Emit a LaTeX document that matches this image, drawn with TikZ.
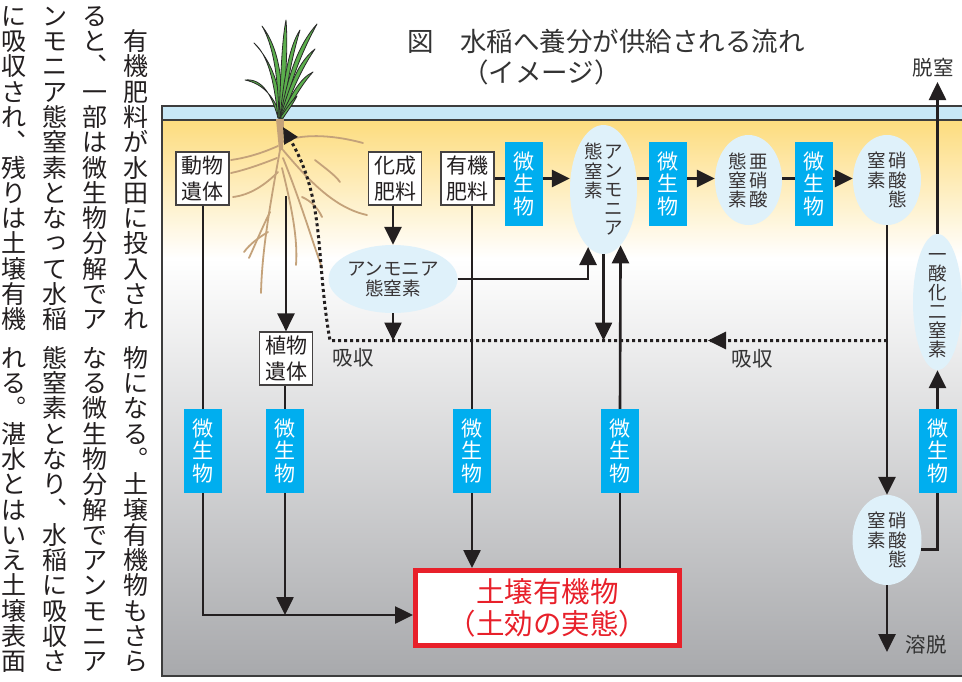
\documentclass[tikz,border=0pt]{standalone}
\usepackage{fontspec}
\setmainfont{Noto Sans CJK JP}
\usetikzlibrary{arrows.meta,shapes.geometric,decorations.markings}

\definecolor{cInk}{HTML}{231F20}
\definecolor{cFrame}{HTML}{3D3D3D}
\definecolor{cTitle}{HTML}{333333}
\definecolor{cWater}{HTML}{C8E8F6}
\definecolor{cSoilTop}{HTML}{FDDC7E}
\definecolor{cSoilBot}{HTML}{A8A9AC}
\definecolor{cOval}{HTML}{DFF1FA}
\definecolor{cMicrobe}{HTML}{00AEEF}
\definecolor{cRed}{HTML}{E8202A}
\definecolor{cLeaf}{HTML}{5BAE4C}
\definecolor{cLeafEdge}{HTML}{2A2A2A}
\definecolor{cRoot}{HTML}{C4A27A}

% vertical (top-to-bottom) column of characters, #1 = character pitch
\makeatletter
\newcommand\vcol[2]{\vtop{\baselineskip=#1\relax\lineskiplimit=-\maxdimen\lineskip=0pt\relax\vc@l#2\@nil}}
\def\vc@l#1#2\@nil{\hbox to 1em{\hss\vrule height .88em depth .12em width 0pt\relax#1\hss}\ifx\relax#2\relax\else\vc@l#2\@nil\fi}
\makeatother
\newcommand\smallkana[1]{\raisebox{.12em}{\kern.12em#1}}

\tikzset{
  conn/.style={draw=cInk, line width=2.6pt},
  arr/.style={conn, -{Triangle[length=18pt,width=17pt]}},
  dotln/.style={draw=cInk, line width=3pt, dash pattern=on 3pt off 3pt},
  srcbox/.style={draw=cInk!85, line width=1.2pt, fill=white, minimum width=53pt,
    minimum height=53pt, inner sep=0pt, align=center, text=cInk,
    font=\fontsize{21}{25.5}\selectfont},
  mbox/.style={fill=cMicrobe, minimum width=38pt, minimum height=84pt,
    inner sep=0pt, text=white, font=\fontsize{21}{22.5}\selectfont},
  ovalnode/.style={ellipse, fill=cOval, inner sep=0pt},
  ovaltext/.style={inner sep=0pt, text=cInk!90, font=\fontsize{18.5}{20}\selectfont},
  lbl/.style={inner sep=0pt, text=cTitle, font=\fontsize{20.5}{22}\selectfont},
  colstyle/.style={anchor=north, inner sep=0pt, text=cInk, font=\fontsize{25}{25.3}\selectfont},
  leaf/.style={fill=cLeaf, draw=cLeafEdge, line width=0.8pt, line join=round},
  rootln/.style={draw=cRoot, line width=1.8pt, line cap=round},
}

\begin{document}
\begin{tikzpicture}[x=1pt,y=-1pt]
\useasboundingbox (0,0) rectangle (962,681);

% ---------- running text, vertical columns ----------
\node[colstyle] (p1) at (135.5,28.3) {\vcol{25.3pt}{有機肥料が水田に投入され}};
\node[colstyle] (p2) at (95,3) {\vcol{25.3pt}{ると︑一部は微生物分解でア}};
\node[colstyle] (p3) at (54.5,3) {\vcol{25.3pt}{ンモニア態窒素とな{\smallkana{っ}}て水稲}};
\node[colstyle] (p4) at (14,3) {\vcol{25.3pt}{に吸収され︑残りは土壌有機}};
\node[colstyle] (p5) at (135.5,345) {\vcol{25.3pt}{物になる︒土壌有機物もさら}};
\node[colstyle] (p6) at (95,345) {\vcol{25.3pt}{なる微生物分解でアンモニア}};
\node[colstyle] (p7) at (54.5,345) {\vcol{25.3pt}{態窒素となり︑水稲に吸収さ}};
\node[colstyle] (p8) at (14,345) {\vcol{25.3pt}{れる︒湛水とはいえ土壌表面}};

% ---------- title ----------
\node[anchor=west, inner sep=0pt, text=cTitle, font=\fontsize{26.5}{30}\selectfont] (title1) at (407,41) {図　水稲へ養分が供給される流れ};
\node[anchor=west, inner sep=0pt, text=cTitle, font=\fontsize{26.5}{30}\selectfont] (title2) at (462,72) {（イメージ）};

% ---------- soil and flood water ----------
\shade[top color=cSoilTop, bottom color=white] (162,120) rectangle (962,258);
\shade[top color=white, bottom color=cSoilBot] (162,258) rectangle (962,676);
\fill[cWater] (162,106) rectangle (962,120);
\draw[cFrame, line width=2pt] (162,120) -- (962,120);
\draw[cFrame, line width=2pt] (962,106) -- (162,106) -- (162,676) -- (962,676);

% ---------- rice plant ----------
\fill[cRoot] (276,119) -- (284,119) -- (283,150) -- (279,150) -- cycle;
\draw[rootln] (278,146) .. controls (260,154) and (245,158) .. (231,160);
\draw[rootln] (277,158) .. controls (262,164) and (245,170) .. (231,173);
\draw[rootln] (278,172) .. controls (265,185) and (250,195) .. (233,197);
\draw[rootln] (280,150) .. controls (270,205) and (262,250) .. (261,293);
\draw[rootln] (270,212) .. controls (262,228) and (255,245) .. (249,258);
\draw[rootln] (268,232) .. controls (258,238) and (250,244) .. (244,252);
\draw[rootln] (282,142) .. controls (300,134) and (330,134) .. (363,143);
\draw[rootln] (283,150) .. controls (310,182) and (335,208) .. (367,215);
\draw[rootln] (283,158) .. controls (300,200) and (312,240) .. (322,268);
\draw[rootln] (282,168) .. controls (292,208) and (298,240) .. (296,265);
\draw[rootln] (302,197) .. controls (311,201) and (318,208) .. (322,217);
\draw[rootln] (315,160) .. controls (325,168) and (335,175) .. (340,182);

\filldraw[leaf] (278,118) .. controls (272,95) and (262,78) .. (245,80) .. controls (265,84) and (276,100) .. (281,118) -- cycle;
\filldraw[leaf] (278,118) .. controls (274,80) and (268,55) .. (254,43) .. controls (272,62) and (280,85) .. (282,118) -- cycle;
\filldraw[leaf] (279,118) .. controls (278,75) and (273,45) .. (262,26) .. controls (279,48) and (283,80) .. (282,118) -- cycle;
\filldraw[leaf] (279,118) .. controls (281,70) and (282,40) .. (286,20) .. controls (288,45) and (286,80) .. (282,118) -- cycle;
\filldraw[leaf] (280,118) .. controls (284,75) and (290,45) .. (300,30) .. controls (294,50) and (287,80) .. (283,118) -- cycle;
\filldraw[leaf] (280,118) .. controls (288,75) and (298,45) .. (317,24) .. controls (303,50) and (290,80) .. (283,118) -- cycle;
\filldraw[leaf] (280,118) .. controls (290,85) and (298,62) .. (315,49) .. controls (302,68) and (291,92) .. (283,118) -- cycle;
\filldraw[leaf] (280,118) .. controls (291,95) and (300,78) .. (313,72) .. controls (302,84) and (292,102) .. (283,118) -- cycle;
\filldraw[leaf] (280,118) .. controls (287,108) and (292,100) .. (297,96) .. controls (293,104) and (287,112) .. (283,118) -- cycle;

% ---------- sources ----------
\node[srcbox] (dobutsu) at (202.5,178.5) {動物\\遺体};
\node[srcbox] (kasei) at (395,178.5) {化成\\肥料};
\node[srcbox] (yuki) at (467.5,178.5) {有機\\肥料};
\node[srcbox] (shoku) at (286,358.5) {植物\\遺体};

% ---------- microbes ----------
\node[mbox] (m1) at (524,184) {\vcol{22.5pt}{微生物}};
\node[mbox] (m2) at (668,184) {\vcol{22.5pt}{微生物}};
\node[mbox] (m3) at (814,184) {\vcol{22.5pt}{微生物}};
\node[mbox] (m4) at (203,451) {\vcol{22.5pt}{微生物}};
\node[mbox] (m5) at (285,451) {\vcol{22.5pt}{微生物}};
\node[mbox] (m6) at (472,451) {\vcol{22.5pt}{微生物}};
\node[mbox] (m7) at (620,451) {\vcol{22.5pt}{微生物}};
\node[mbox] (m8) at (937.5,451) {\vcol{22.5pt}{微生物}};

% ---------- nitrogen forms ----------
\node[ovalnode, minimum width=67pt, minimum height=129pt] (amA) at (603.5,189.5) {};
\node[ovaltext] (amAt) at (amA.center) {\vcol{19.5pt}{態窒素}\hskip2pt\vcol{19pt}{アンモニア}};
\node[ovalnode, minimum width=67pt, minimum height=90pt] (anitr) at (748.5,180) {};
\node[ovaltext] (anitrt) at (anitr.center) {\vcol{19pt}{態窒素}\hskip2.5pt\vcol{19pt}{亜硝酸}};
\node[ovalnode, minimum width=68pt, minimum height=90pt] (nit1) at (887,180) {};
\node[ovaltext] (nit1t) at (nit1.center) {\vcol{19.5pt}{窒素}\hskip2.5pt\vcol{19.5pt}{硝酸態}};
\node[ovalnode, minimum width=69pt, minimum height=90pt] (nit2) at (887,540) {};
\node[ovaltext] (nit2t) at (nit2.center) {\vcol{19.5pt}{窒素}\hskip2.5pt\vcol{19.5pt}{硝酸態}};
\node[ovalnode, minimum width=49pt, minimum height=136pt] (n2o) at (937.5,302) {};
\node[ovaltext] (n2ot) at (n2o.center) {\vcol{19pt}{一酸化二窒素}};
\node[ovalnode, minimum width=129pt, minimum height=68pt] (amB) at (393,279) {};
\node[ovaltext, align=center] (amBt) at (amB.center) {アンモニア\\態窒素};

% ---------- soil organic matter ----------
\node[draw=cRed, line width=5pt, fill=white, minimum width=264pt, minimum height=75pt,
  inner sep=0pt, text=cRed, align=center, font=\fontsize{28.5}{32}\selectfont]
  (soil) at (547.5,608) {土壌有機物\\（土効の実態）};

% ---------- labels ----------
\node[lbl] (kyu1) at (353,358) {吸収};
\node[lbl] (kyu2) at (752,359) {吸収};
\node[lbl] (yodatsu) at (926,645) {溶脱};
\node[lbl] (datchitsu) at (933,68) {脱窒};

% ---------- free ends ----------
\coordinate (kyuR) at (887,340.5);
\coordinate (kyuL) at (330,340.5);
\coordinate (rootTip) at (283,127);
\coordinate (rootA) at (286,196);
\coordinate (merge) at (285,615);
\coordinate (leach) at (887,652);
\coordinate (denit) at (937.5,82);

% ---------- flows ----------
\draw[conn] (yuki.east) -- (yuki.east -| m1.west);
\draw[arr] (m1.east |- yuki.east) -- (amA.west |- yuki.east);
\draw[conn] (amA.east |- yuki.east) -- (m2.west |- yuki.east);
\draw[arr] (m2.east |- yuki.east) -- (anitr.west |- yuki.east);
\draw[conn] (anitr.east |- yuki.east) -- (m3.west |- yuki.east);
\draw[arr] (m3.east |- yuki.east) -- (nit1.west |- yuki.east);

\draw[arr] (nit1.south) -- (nit2.north);
\draw[arr] (nit2.south) -- (leach);
\draw[conn] (nit2.-16.6) -| (m8.south);
\draw[arr] (m8.north) -- (n2o.south);
\draw[arr] (n2o.north) -- (denit);

\draw[arr] (kasei.south -| amB.north) -- (amB.north);
\draw[arr] (amB.south) -- (amB.south |- kyuL);
\draw[arr] (amB.east) -| (amA.-105);
\draw[arr] (amA.south) -- (amA.south |- kyuL);
\draw[conn] (soil.north -| m7.south) -- (m7.south);
\draw[arr] (m7.north) -- (amA.-73.6);

\draw[conn] (yuki.south -| m6.north) -- (m6.north);
\draw[arr] (m6.south) -- (m6.south |- soil.north);

\draw[conn] (dobutsu.south -| m4.north) -- (m4.north);
\draw[arr] (m4.south) |- (merge -| soil.west);
\draw[arr] (rootA) -- (shoku.north -| rootA);
\draw[conn] (shoku.south -| m5.north) -- (m5.north);
\draw[arr] (m5.south) -- (merge);

% uptake by the roots
\draw[dotln, -{Triangle[length=16pt,width=15pt]}, postaction={decorate},
  decoration={markings, mark=at position 179pt with {\arrow{Triangle[length=18pt,width=17pt]}}}]
  (kyuR) -- (kyuL) to[out=100,in=-60] (rootTip);
\end{tikzpicture}
\end{document}
